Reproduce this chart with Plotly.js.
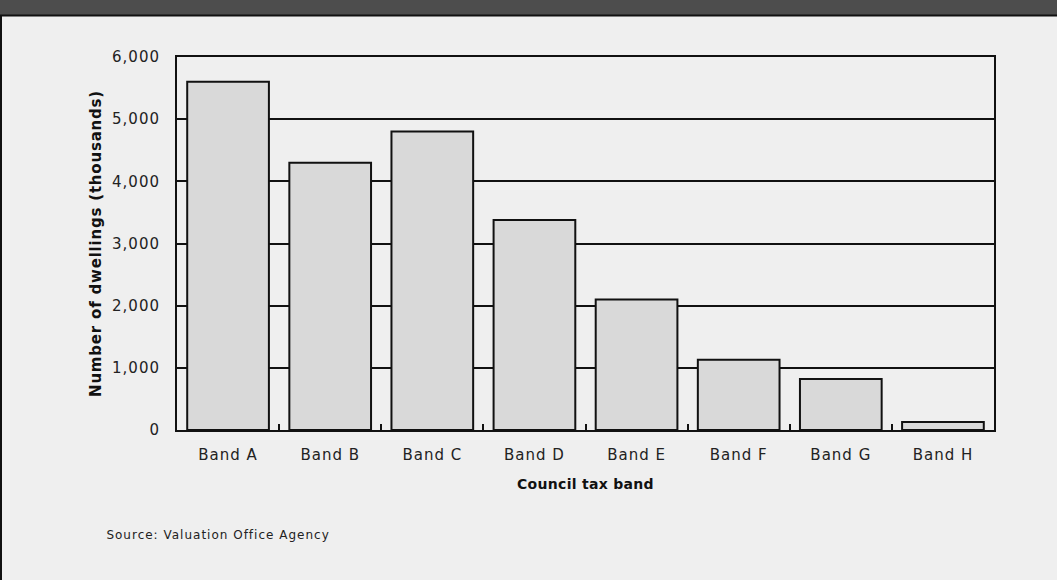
<!DOCTYPE html>
<html>
<head>
<meta charset="utf-8">
<script src="https://cdn.plot.ly/plotly-3.0.1.min.js"></script>
<style>
  html, body { margin: 0; padding: 0; background: #efefef; }
  #chart { width: 1057px; height: 580px; }
  /* slightly open letterforms for the axis and note text */
  #chart .xtick text, #chart .ytick text { letter-spacing: 1px; }
  #chart .g-ytitle text { letter-spacing: 0.8px; }
  #chart .g-xtitle text { letter-spacing: 0.3px; }
  #chart .annotation-text { letter-spacing: 1px; }
</style>
</head>
<body>
<div id="chart"></div>
<script>
// Dwellings by council tax band (thousands)
const bands = ["Band A", "Band B", "Band C", "Band D", "Band E", "Band F", "Band G", "Band H"];
const dwellings = [5600, 4300, 4800, 3380, 2100, 1130, 820, 130];
const yTicks = [0, 1000, 2000, 3000, 4000, 5000, 6000];
const yTickLabels = ["0", "1,000", "2,000", "3,000", "4,000", "5,000", "6,000"];
const sourceNote = "Source: Valuation Office Agency";

const W = 1057, H = 580;
const M = { l: 177, r: 63, t: 57, b: 150 };
const plotW = W - M.l - M.r, plotH = H - M.t - M.b;
// convert page pixels to paper coordinates for decorations outside the plot
const px = x => (x - M.l) / plotW;
const py = y => (H - M.b - y) / plotH;

const FONT = "DejaVu Sans, Liberation Sans, Arial, sans-serif";

const trace = {
  type: "bar",
  x: bands,
  y: dwellings,
  marker: { color: "#d9d9d9", line: { color: "#111111", width: 2 } },
  hoverinfo: "x+y"
};

const layout = {
  width: W, height: H,
  margin: M,
  paper_bgcolor: "#efefef",
  plot_bgcolor: "#efefef",
  showlegend: false,
  bargap: 0.2,
  font: { family: FONT, color: "#222222", size: 15 },
  xaxis: {
    type: "category",
    range: [-0.5, 7.5],
    showline: true, linecolor: "#111111", linewidth: 2, mirror: true,
    ticks: "inside", tickson: "boundaries", ticklen: 6, tickwidth: 2, tickcolor: "#111111",
    showgrid: false,
    tickfont: { family: FONT, size: 15, color: "#222222" },
    ticklabelstandoff: 10,
    title: { text: "Council tax band", font: { family: FONT, size: 14, color: "#111111", weight: "bold" }, standoff: 16 }
  },
  yaxis: {
    range: [0, 6000],
    tickvals: yTicks, ticktext: yTickLabels,
    showline: true, linecolor: "#111111", linewidth: 2, mirror: true,
    showgrid: true, gridcolor: "#111111", gridwidth: 2,
    zeroline: false,
    ticks: "",
    tickfont: { family: FONT, size: 15, color: "#222222" },
    ticklabelstandoff: 12,
    title: { text: "Number of dwellings (thousands)", font: { family: FONT, size: 15, color: "#111111", weight: "bold" }, standoff: 12 }
  },
  shapes: [
    // dark header band across the top
    { type: "rect", xref: "paper", yref: "paper", x0: px(0), x1: px(W), y0: py(15), y1: py(0),
      fillcolor: "#4d4d4d", line: { width: 0 }, layer: "below" },
    { type: "line", xref: "paper", yref: "paper", x0: px(0), x1: px(W), y0: py(15.5), y1: py(15.5),
      line: { color: "#111111", width: 2 } },
    // left edge rule
    { type: "line", xref: "paper", yref: "paper", x0: px(1), x1: px(1), y0: py(H), y1: py(15),
      line: { color: "#111111", width: 2 } }
  ],
  annotations: [
    { text: sourceNote, xref: "paper", yref: "paper", x: px(120), y: py(535),
      xanchor: "left", yanchor: "middle", showarrow: false,
      font: { family: FONT, size: 12, color: "#222222" } }
  ]
};

Plotly.newPlot("chart", [trace], layout, { displayModeBar: false, staticPlot: true });
</script>
</body>
</html>
